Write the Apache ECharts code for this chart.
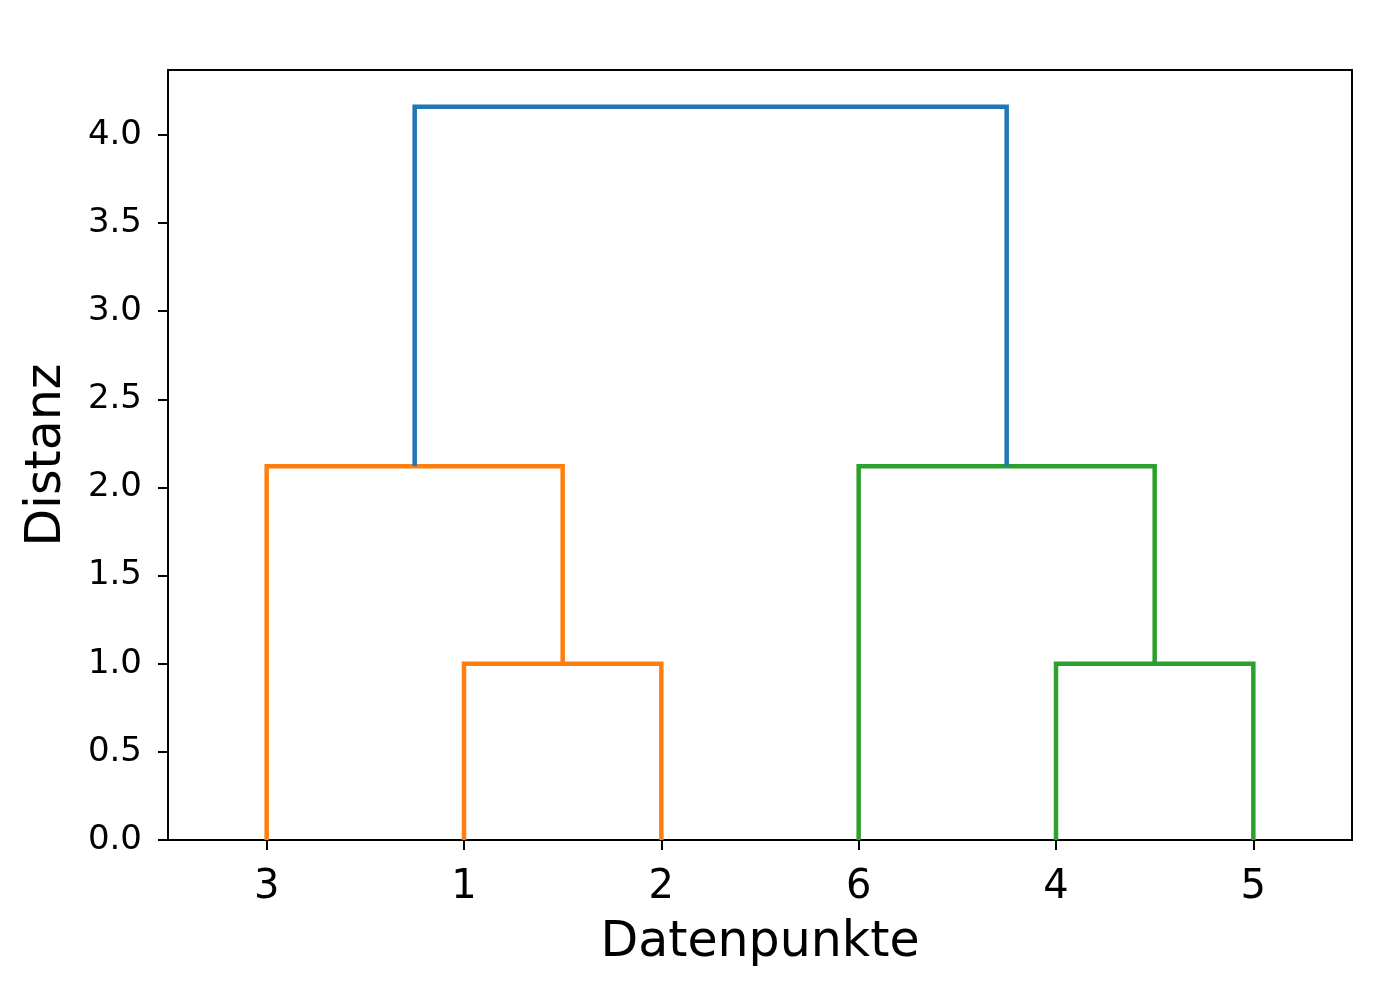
<!DOCTYPE html>
<html>
<head>
<meta charset="utf-8">
<title>Dendrogramm</title>
<script src="https://cdn.jsdelivr.net/npm/echarts@6/dist/echarts.min.js"></script>
<style>
  html, body { margin: 0; padding: 0; background: #fff; }
  #chart { width: 1388px; height: 995px; }
</style>
</head>
<body>
<div id="chart"></div>
<script>
  // leaf order along the x axis
  const leafLabels = ['3', '1', '2', '6', '4', '5']
  // merges: left child, right child, height, colour
  const linkIds = ['A', 'B', 'C', 'D', 'E']
  const linkLeft = ['1', '4', '3', '6', 'C']
  const linkRight = ['2', '5', 'A', 'B', 'D']
  const linkHeight = [1.0, 1.0, 2.12, 2.12, 4.16]
  const linkColor = ['#ff7f0e', '#2ca02c', '#ff7f0e', '#2ca02c', '#1f77b4']
  const yTicks = [0, 0.5, 1.0, 1.5, 2.0, 2.5, 3.0, 3.5, 4.0]

  const font = 'DejaVu Sans'
  let nodes = {}
  leafLabels.forEach((lab, i) => {
    nodes[lab] = { x: 5 + 10 * i, y: 0 }
  })
  let series = []
  linkIds.forEach((id, i) => {
    let a = nodes[linkLeft[i]]
    let b = nodes[linkRight[i]]
    let h = linkHeight[i]
    nodes[id] = { x: (a.x + b.x) / 2, y: h }
    series.push({
      type: 'line',
      xAxisIndex: 1,
      symbol: 'none',
      animation: false,
      lineStyle: { color: linkColor[i], width: 4.5, join: 'miter', cap: 'butt' },
      data: [[a.x, a.y], [a.x, h], [b.x, h], [b.x, b.y]]
    })
  })
  const yMax = Math.max(...linkHeight) * 1.05

  let mychart = echarts.init(document.getElementById('chart'))
  mychart.setOption({
    backgroundColor: '#fff',
    animation: false,
    grid: {
      left: 168,
      right: 36,
      top: 70,
      bottom: 155,
      show: true,
      borderColor: '#000',
      borderWidth: 2
    },
    xAxis: [
      {
        type: 'category',
        data: leafLabels,
        boundaryGap: true,
        name: 'Datenpunkte',
        nameLocation: 'middle',
        nameGap: 79,
        nameTextStyle: { fontFamily: font, fontSize: 49, color: '#000' },
        axisLine: { show: true, lineStyle: { color: '#000', width: 2 } },
        axisTick: { show: true, alignWithLabel: true, length: 10, lineStyle: { color: '#000', width: 2 } },
        axisLabel: { margin: 28, fontFamily: font, fontSize: 40, color: '#000' },
        splitLine: { show: false }
      },
      {
        type: 'value',
        min: 0,
        max: 10 * leafLabels.length,
        show: false,
        splitLine: { show: false }
      }
    ],
    yAxis: {
      type: 'value',
      min: 0,
      max: yMax,
      name: 'Distanz',
      nameLocation: 'middle',
      nameGap: 96,
      nameTextStyle: { fontFamily: font, fontSize: 49, color: '#000' },
      axisLine: { show: true, lineStyle: { color: '#000', width: 2 } },
      axisTick: { show: true, length: 10, customValues: yTicks, lineStyle: { color: '#000', width: 2 } },
      axisLabel: {
        margin: 26,
        fontFamily: font,
        fontSize: 34,
        color: '#000',
        padding: [9, 0, 0, 0],
        customValues: yTicks,
        formatter: v => Number(v).toFixed(1)
      },
      splitLine: { show: false }
    },
    series: series
  })
</script>
</body>
</html>
